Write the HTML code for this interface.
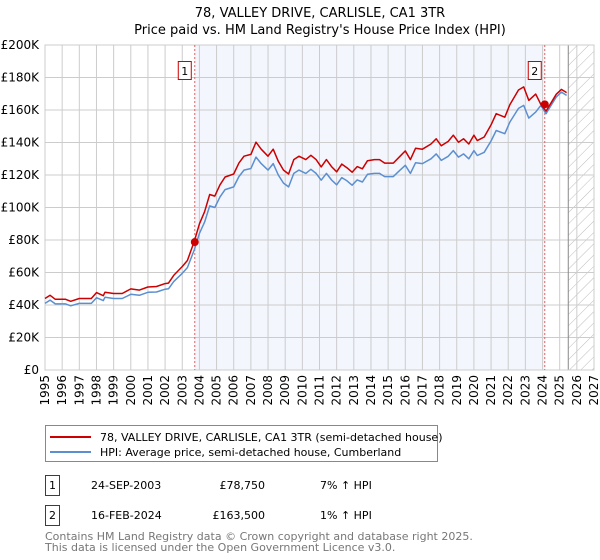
<!DOCTYPE html>
<html><head><meta charset="utf-8"><style>
body{margin:0;background:#fff;font-family:"Liberation Sans","DejaVu Sans",sans-serif;}
svg{display:block}
</style></head><body>
<svg id="chart" width="600" height="560" xmlns="http://www.w3.org/2000/svg" font-family="'DejaVu Sans','Liberation Sans',sans-serif">
<text x="320" y="17" text-anchor="middle" font-size="13" fill="#000">78, VALLEY DRIVE, CARLISLE, CA1 3TR</text>
<text x="320" y="34" text-anchor="middle" font-size="13" fill="#000">Price paid vs. HM Land Registry's House Price Index (HPI)</text>
<defs><pattern id="hatch" width="8" height="8" patternUnits="userSpaceOnUse" patternTransform="rotate(45)"><line x1="0" y1="0" x2="0" y2="8" stroke="#bbb" stroke-width="1"/></pattern></defs>
<g id="plot"></g>
<g>
<rect x="45.5" y="425.5" width="392" height="36" fill="#fff" stroke="#888"/>
<line x1="50" y1="437" x2="91" y2="437" stroke="#cc0000" stroke-width="2"/>
<text x="100" y="441" font-size="11">78, VALLEY DRIVE, CARLISLE, CA1 3TR (semi-detached house)</text>
<line x1="50" y1="452" x2="91" y2="452" stroke="#5b8fd0" stroke-width="2"/>
<text x="100" y="456" font-size="11">HPI: Average price, semi-detached house, Cumberland</text>
</g>
<g font-size="11">
<rect x="45.5" y="475.5" width="14" height="20" fill="#fff" stroke="#cc0000"/>
<text x="52.5" y="489" text-anchor="middle">1</text>
<text x="91" y="489">24-SEP-2003</text>
<text x="265" y="489" text-anchor="end">£78,750</text>
<text x="320" y="489">7% ↑ HPI</text>
<rect x="45.5" y="505.5" width="14" height="20" fill="#fff" stroke="#cc0000"/>
<text x="52.5" y="519" text-anchor="middle">2</text>
<text x="91" y="519">16-FEB-2024</text>
<text x="265" y="519" text-anchor="end">£163,500</text>
<text x="320" y="519">1% ↑ HPI</text>
</g>
<text x="45" y="540" font-size="11" fill="#777">Contains HM Land Registry data © Crown copyright and database right 2025.</text>
<text x="45" y="551" font-size="11" fill="#777">This data is licensed under the Open Government Licence v3.0.</text>
</svg>
<script>
const hpiYears=[1995.0,1995.3,1995.6,1996.2,1996.5,1997.0,1997.7,1998.0,1998.4,1998.5,1999.0,1999.5,2000.0,2000.5,2001.0,2001.5,2002.0,2002.2,2002.5,2003.0,2003.3,2003.7,2004.0,2004.3,2004.6,2004.9,2005.2,2005.5,2006.0,2006.3,2006.6,2007.0,2007.3,2007.6,2008.0,2008.3,2008.6,2008.9,2009.2,2009.5,2009.8,2010.2,2010.5,2010.8,2011.1,2011.4,2011.7,2012.0,2012.3,2012.6,2012.9,2013.2,2013.5,2013.8,2014.2,2014.5,2014.8,2015.3,2015.7,2016.0,2016.3,2016.6,2017.0,2017.5,2017.8,2018.1,2018.5,2018.8,2019.1,2019.4,2019.7,2020.0,2020.2,2020.6,2021.0,2021.3,2021.8,2022.1,2022.6,2022.9,2023.2,2023.6,2023.9,2024.2,2024.5,2024.8,2025.1,2025.4];
const hpiValues=[41,43,40.7,40.7,39.5,41,41,44.5,42.7,44.8,44,44,46.6,46,47.8,48,49.7,50,54.4,59.5,63,74,84,91,101,100,106.5,111,112.7,119,123,124,131,127,123,127,120,115,112.7,121,123,121,123.5,121,116.8,121,117,114,118.4,116.4,113.7,117,115.7,120.4,121,121,119,119,123,126,121,127.6,127,130,133,129,131.5,135,131,133,130,135,132,134,141,147.4,145.4,152.6,161,162.8,155,158.7,162.8,157.7,162.8,168,171,169];
const priceYears=hpiYears;
const priceValues=[44,46,43.5,43.5,42.3,44,44,47.6,45.7,47.9,47.1,47.1,49.9,49.2,51.1,51.4,53.2,53.5,58.2,63.7,67.4,79.2,89.9,97.4,108,107,114,118.8,120.6,127.3,131.6,132.7,140.2,135.9,131.6,135.9,128.4,123,120.6,129.5,131.6,129.5,132.1,129.5,125,129.5,125.2,122,126.7,124.5,121.7,125.2,123.8,128.8,129.5,129.5,127.3,127.3,131.6,134.8,129.5,136.5,135.9,139.1,142.3,138,140.7,144.5,140.2,142.3,139.1,144.5,141.2,143.4,150.9,157.7,155.6,163.3,172.3,174.2,165.9,169.8,163.5,159.3,164.4,169.7,172.7,170.7];
const yTicks=[0,20,40,60,80,100,120,140,160,180,200];
const xTicks=[1995,1996,1997,1998,1999,2000,2001,2002,2003,2004,2005,2006,2007,2008,2009,2010,2011,2012,2013,2014,2015,2016,2017,2018,2019,2020,2021,2022,2023,2024,2025,2026,2027];
const saleYears=[2003.73,2024.13];
const saleValues=[78.75,163.5];
const saleLabels=["1","2"];
const NS="http://www.w3.org/2000/svg";
const L=45,R=594,T=45,B=370,x0=1995,x1=2027,projEnd=2025.5;
const X=v=>L+(v-x0)/(x1-x0)*(R-L);
const Y=v=>B-v/200*(B-T);
const g=document.getElementById('plot');
function mk(tag,attrs,parent){const e=document.createElementNS(NS,tag);for(const k in attrs)e.setAttribute(k,attrs[k]);(parent||g).appendChild(e);return e;}
let e=mk('rect',{x:X(saleYears[0]),y:T,width:X(saleYears[1])-X(saleYears[0]),height:B-T,fill:'#f3f6fd'});


e=mk('rect',{x:X(projEnd),y:T,width:R-X(projEnd),height:B-T,fill:'url(#hatch)'});


yTicks.forEach(v=>{
 const l=mk('line',{x1:L,x2:R,y1:Y(v),y2:Y(v),stroke:'#ccc','stroke-width':1});
 
 
 const t=mk('text',{x:L-6,y:Y(v)+4,'text-anchor':'end','font-size':12,fill:'#000'});
 t.textContent=v===0?'£0':'£'+v+'K';
 
 
});
xTicks.forEach(v=>{
 const l=mk('line',{x1:X(v),x2:X(v),y1:T,y2:B,stroke:'#ccc','stroke-width':1});
 
 
 const t=mk('text',{x:0,y:0,'text-anchor':'end','font-size':12,fill:'#000',transform:`translate(${X(v)+4},${B+5}) rotate(-90)`});
 t.textContent=v;
 
 
});
e=mk('line',{x1:X(projEnd),x2:X(projEnd),y1:T,y2:B,stroke:'#888','stroke-width':1});


e=mk('rect',{x:L,y:T,width:R-L,height:B-T,fill:'none',stroke:'#ccc'});


saleYears.forEach((s,i)=>{
 const l=mk('line',{x1:X(s),x2:X(s),y1:T,y2:B,stroke:'#e06060','stroke-width':1,'stroke-dasharray':'2,2'});
 
 
});
function path(xs,ys,col,name){
 const d=xs.map((v,i)=>(i?'L':'M')+X(v).toFixed(1)+','+Y(ys[i]).toFixed(1)).join('');
 const p=mk('path',{d:d,fill:'none',stroke:col,'stroke-width':1.5,'stroke-linejoin':'round'});
 
 
}
path(hpiYears,hpiValues,'#5b8fd0','hpi-line');
path(priceYears,priceValues,'#cc0000','price-line');
saleYears.forEach((s,i)=>{
 const c=mk('circle',{cx:X(s),cy:Y(saleValues[i]),r:4,fill:'#cc0000'});
 
 
 const bx=X(s)-17;
 const r=mk('rect',{x:bx+0.5,y:61.5,width:13,height:18,fill:'#fff',stroke:'#cc0000'});
 
 
 const t=mk('text',{x:bx+7,y:75,'text-anchor':'middle','font-size':11});
 t.textContent=saleLabels[i];
 
 
});
</script>
</body></html>
